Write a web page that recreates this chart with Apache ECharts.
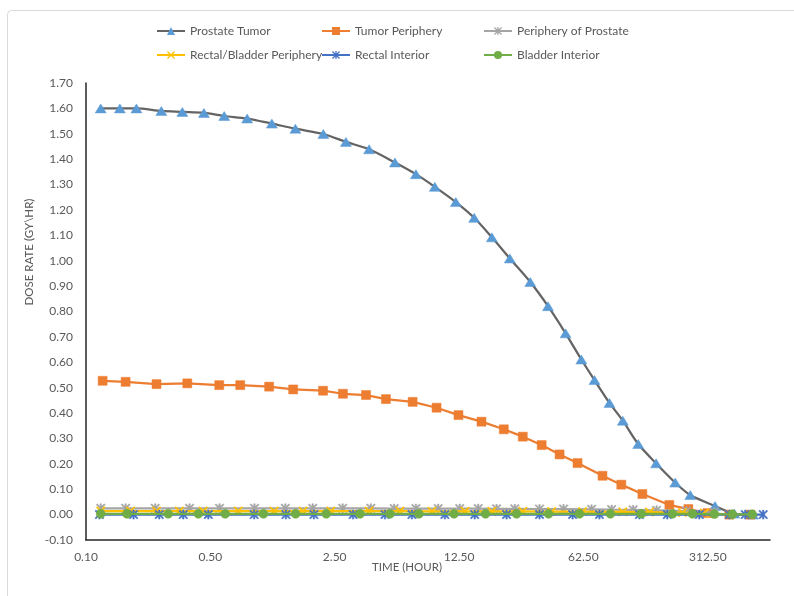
<!DOCTYPE html>
<html>
<head>
<meta charset="utf-8">
<script src="https://cdn.jsdelivr.net/npm/echarts@6/dist/echarts.min.js"></script>
<style>
html,body{margin:0;padding:0;background:#fff;}
#chart{width:794px;height:596px;}
</style>
</head>
<body>
<div id="chart"></div>
<script>
// ---------- data (time in hours, dose rate in Gy/hr) ----------
const seriesNames = ['Prostate Tumor','Tumor Periphery','Periphery of Prostate','Rectal/Bladder Periphery','Rectal Interior','Bladder Interior'];

const ptTime = [0.121,0.155,0.192,0.265,0.348,0.46,0.598,0.805,1.108,1.503,2.158,2.89,3.9,5.45,7.15,9.13,11.98,15.2,19.1,24.1,31.4,39.5,49.6,60.8,72.1,87.5,104,127,160,205,249,343,440,560];
const ptDose = [1.600,1.600,1.600,1.590,1.586,1.582,1.570,1.560,1.540,1.520,1.499,1.468,1.439,1.387,1.341,1.291,1.231,1.169,1.092,1.009,0.916,0.821,0.714,0.611,0.530,0.440,0.370,0.278,0.202,0.126,0.077,0.034,0.004,0.000];

const tpTime = [0.124,0.167,0.249,0.371,0.561,0.736,1.07,1.46,2.15,2.78,3.75,4.85,6.85,9.34,12.4,16.7,22.3,28.5,36.4,45.9,57.9,80,102,134,190,243,311,413,541];
const tpDose = [0.527,0.523,0.514,0.517,0.510,0.510,0.504,0.493,0.488,0.476,0.471,0.455,0.444,0.421,0.392,0.366,0.336,0.307,0.274,0.237,0.203,0.153,0.118,0.081,0.038,0.022,0.006,0.000,0.000];

const ppTime = [0.121,0.167,0.245,0.382,0.563,0.885,1.32,1.88,2.77,3.99,5.4,7.15,9.53,12.6,16.0,20.3,25.7,35.4,48.3,69.4,90,119,161,237,340];
const ppDose = [0.025,0.025,0.025,0.025,0.025,0.025,0.025,0.025,0.025,0.025,0.024,0.024,0.024,0.024,0.024,0.023,0.023,0.022,0.022,0.021,0.020,0.019,0.017,0.014,0.010];

const rbTime = [0.121,0.178,0.249,0.335,0.456,0.717,1.14,1.66,2.38,3.9,5.81,8.79,13.5,19.1,28.5,41.4,61.8,104,147,225,299];
const rbDose = [0.014,0.014,0.014,0.014,0.014,0.014,0.014,0.014,0.014,0.014,0.014,0.013,0.013,0.013,0.013,0.012,0.012,0.011,0.010,0.008,0.006];

const riTime = [0.119,0.185,0.258,0.352,0.487,0.881,1.33,1.91,3.17,4.79,6.79,10.4,15.3,23.1,35.4,54.3,76.9,129,185,280,413,507,640];
const riDose = [0,0,0,0,0,0,0,0,0,0,0,0,0,0,0,0,0,0,0,0,0,0,0];

const biTime = [0.121,0.170,0.290,0.428,0.606,0.994,1.507,2.24,3.47,5.11,7.43,11.7,17.6,26.3,39.8,59.4,88.6,132,198,256,340,429,555];
const biDose = [0.003,0.003,0.003,0.003,0.003,0.003,0.003,0.003,0.003,0.003,0.003,0.003,0.003,0.003,0.003,0.003,0.003,0.003,0.003,0.003,0.002,0.001,0.001];

const xTickLabels = ['0.10','0.50','2.50','12.50','62.50','312.50'];
const xLogBase = 5;
const xLogMin = 0.1;
const xAxisSpan = 5.5;        // axis runs 5.5 log-5 steps above 0.1
const yMin = -0.1, yMax = 1.7, yStep = 0.1;

// log axis (base 5, starting at 0.1) expressed as steps on a value axis
const toLog = t => Math.log(t / xLogMin) / Math.log(xLogBase);
const pairs = (ts, vs) => ts.map((t, i) => [toLog(t), vs[i]]);

const ASTER = 'path://M4.2,0L5.8,0L5.8,10L4.2,10Z M0,1.1L1.1,0L10,8.9L8.9,10Z M8.9,0L10,1.1L1.1,10L0,8.9Z';
const XMARK = 'path://M0,1.1L1.1,0L10,8.9L8.9,10Z M8.9,0L10,1.1L1.1,10L0,8.9Z';

const FONT = 'Lato, "Open Sans", sans-serif';
const TXT = '#595959';

const styles = [
  {line:'#646464', mark:'#5B9BD5', symbol:'triangle', size:[11,9], smooth:0.3, data:pairs(ptTime, ptDose)},
  {line:'#ED7D31', mark:'#ED7D31', symbol:'rect', size:9, smooth:false, data:pairs(tpTime, tpDose)},
  {line:'#A5A5A5', mark:'#A5A5A5', symbol:ASTER, size:9, smooth:false, data:pairs(ppTime, ppDose)},
  {line:'#FFC000', mark:'#FFC000', symbol:XMARK, size:9, smooth:false, data:pairs(rbTime, rbDose)},
  {line:'#4472C4', mark:'#4472C4', symbol:ASTER, size:9, smooth:false, data:pairs(riTime, riDose)},
  {line:'#70AD47', mark:'#70AD47', symbol:'circle', size:9, smooth:false, data:pairs(biTime, biDose)}
];

const legendCols = [156, 321, 483];
const legendRows = [25, 49];

const chart = echarts.init(document.getElementById('chart'), null, {renderer:'canvas'});
chart.setOption({
  animation: false,
  backgroundColor: '#fff',
  textStyle: {fontFamily: FONT},
  grid: {left: 86, right: 24, top: 83, bottom: 56, containLabel: false},
  legend: seriesNames.map((n, i) => ({
    data: [n],
    left: legendCols[i % 3],
    top: legendRows[Math.floor(i / 3)],
    padding: 0,
    itemWidth: 28,
    itemHeight: 10,
    itemStyle: {borderWidth: 0},
    textStyle: {color: TXT, fontSize: 12, fontFamily: FONT}
  })),
  xAxis: {
    type: 'value',
    min: 0,
    max: xAxisSpan,
    interval: 1,
    axisLine: {show: true, onZero: false, lineStyle: {color: '#262626', width: 1.5}},
    axisTick: {show: false},
    splitLine: {show: false},
    axisLabel: {
      color: TXT, fontSize: 12, fontFamily: FONT, margin: 11,
      showMaxLabel: false,
      formatter: v => {
        const k = Math.round(v);
        return Math.abs(v - k) < 1e-6 && xTickLabels[k] !== undefined ? xTickLabels[k] : '';
      }
    }
  },
  yAxis: {
    type: 'value',
    min: yMin,
    max: yMax,
    interval: yStep,
    axisLine: {show: true, lineStyle: {color: '#262626', width: 1.5}},
    axisTick: {show: false},
    splitLine: {show: false},
    axisLabel: {color: TXT, fontSize: 12, fontFamily: FONT, margin: 13, formatter: v => v.toFixed(2)}
  },
  graphic: [
    {type:'rect', z:-10, silent:true, shape:{x:7.5, y:10.5, width:820, height:620, r:4}, style:{fill:'none', stroke:'#d9d9d9', lineWidth:1}},
    {type:'text', x:29, y:252, rotation:Math.PI/2, silent:true,
      style:{text:'DOSE RATE (GY\\HR)', fill:TXT, font:'11.5px ' + FONT, textAlign:'center', textVerticalAlign:'middle'}},
    {type:'text', x:407, y:567, silent:true,
      style:{text:'TIME (HOUR)', fill:TXT, font:'11.5px ' + FONT, textAlign:'center', textVerticalAlign:'middle'}}
  ],
  series: styles.map((s, i) => ({
    name: seriesNames[i],
    type: 'line',
    data: s.data,
    smooth: s.smooth,
    symbol: s.symbol,
    symbolSize: s.size,
    showAllSymbol: true,
    lineStyle: {color: s.line, width: 2.25},
    itemStyle: {color: s.mark, borderColor: s.mark, borderWidth: 0.5},
    emphasis: {disabled: true},
    z: 2 + i
  }))
});
</script>
</body>
</html>
